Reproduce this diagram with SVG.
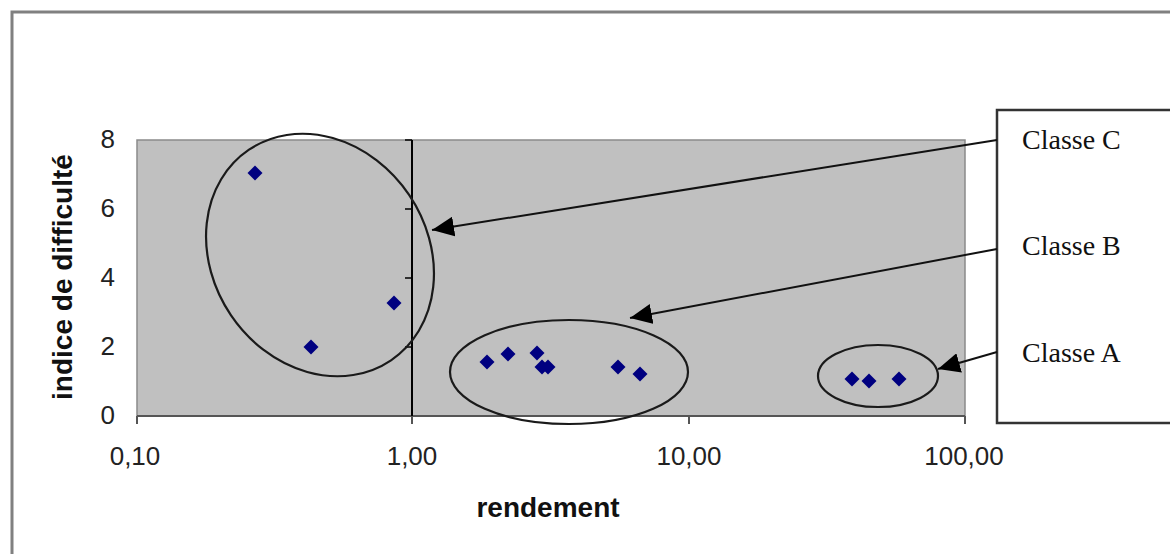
<svg xmlns="http://www.w3.org/2000/svg" width="1170" height="554" viewBox="0 0 1170 554">
<style>
.tick{font-family:"Liberation Sans",Arial,sans-serif;font-size:26px;fill:#222}
.axt{font-family:"Liberation Sans",Arial,sans-serif;font-size:28px;font-weight:bold;fill:#111}
.cls{font-family:"Liberation Serif","Times New Roman",serif;font-size:28px;fill:#111}
.pt{fill:#000080}
.ell{fill:none;stroke:#1a1a1a;stroke-width:2.2}
.conn{stroke:#111;stroke-width:2;fill:none}
.ax{stroke:#555;stroke-width:2;fill:none}
</style>
<defs>
<marker id="arr" markerUnits="userSpaceOnUse" markerWidth="22" markerHeight="20" refX="22" refY="10" orient="auto">
<path d="M0,0 L22,10 L0,20 z" fill="#000"/>
</marker>
<path id="dm" d="M0,-7.5 L7.5,0 L0,7.5 L-7.5,0 z"/>
</defs>
<rect width="1170" height="554" fill="#fff"/>
<rect x="12" y="12" width="1200" height="600" fill="none" stroke="#808080" stroke-width="3"/>
<g id="plot">
<rect x="137" y="140" width="828" height="276" fill="#c0c0c0" stroke="#8a8a8a" stroke-width="1.5"/>
<line class="ax" x1="137" y1="416" x2="965" y2="416"/>
<path class="ax" d="M137,416 V424 M412,416 V424 M689,416 V424 M965,416 V424"/>
<line x1="412" y1="140" x2="412" y2="416" stroke="#000" stroke-width="2"/>
<path d="M405,140 H412 M405,209 H412 M405,278 H412 M405,347 H412" stroke="#000" stroke-width="1.5"/>
</g>
<g id="ticks">
<text class="tick" x="115" y="148" text-anchor="end">8</text>
<text class="tick" x="115" y="217" text-anchor="end">6</text>
<text class="tick" x="115" y="286" text-anchor="end">4</text>
<text class="tick" x="115" y="355" text-anchor="end">2</text>
<text class="tick" x="115" y="424" text-anchor="end">0</text>
<text class="tick" x="135" y="465" text-anchor="middle">0,10</text>
<text class="tick" x="412" y="465" text-anchor="middle">1,00</text>
<text class="tick" x="689" y="465" text-anchor="middle">10,00</text>
<text class="tick" x="964" y="465" text-anchor="middle">100,00</text>
</g>
<g id="axis-titles">
<text class="axt" x="548" y="517" text-anchor="middle">rendement</text>
<text class="axt" transform="translate(72,277) rotate(-90)" text-anchor="middle">indice de difficulté</text>
</g>
<g id="points">
<use href="#dm" class="pt" x="255" y="173"/>
<use href="#dm" class="pt" x="311" y="347"/>
<use href="#dm" class="pt" x="394" y="303"/>
<use href="#dm" class="pt" x="487" y="362"/>
<use href="#dm" class="pt" x="508" y="354"/>
<use href="#dm" class="pt" x="537" y="353"/>
<use href="#dm" class="pt" x="542" y="367"/>
<use href="#dm" class="pt" x="548" y="367"/>
<use href="#dm" class="pt" x="618" y="367"/>
<use href="#dm" class="pt" x="640" y="374"/>
<use href="#dm" class="pt" x="852" y="379"/>
<use href="#dm" class="pt" x="869" y="381"/>
<use href="#dm" class="pt" x="899" y="379"/>
</g>
<g id="ellipse-C"><ellipse class="ell" cx="320" cy="255" rx="127" ry="107.5" transform="rotate(56 320 255)"/></g>
<g id="ellipse-B"><ellipse class="ell" cx="569" cy="372" rx="119" ry="52"/></g>
<g id="ellipse-A"><ellipse class="ell" cx="878" cy="376" rx="60" ry="31"/></g>
<g id="legend">
<rect x="997" y="110" width="200" height="313" fill="#fff" stroke="#333" stroke-width="2.5"/>
<text class="cls" x="1022" y="149">Classe C</text>
<text class="cls" x="1022" y="255">Classe B</text>
<text class="cls" x="1022" y="362">Classe A</text>
</g>
<g id="connectors">
<line class="conn" x1="997" y1="140" x2="432" y2="230" marker-end="url(#arr)"/>
<line class="conn" x1="997" y1="249" x2="630" y2="318" marker-end="url(#arr)"/>
<line class="conn" x1="997" y1="352" x2="938" y2="369" marker-end="url(#arr)"/>
</g>
</svg>
